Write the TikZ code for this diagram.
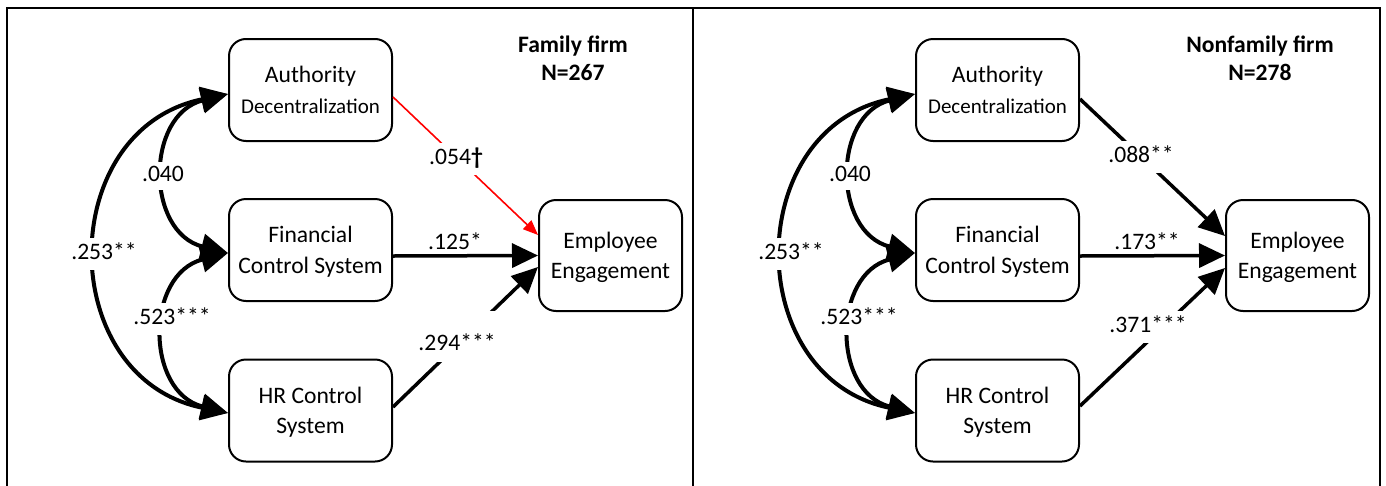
\documentclass[tikz,border=0pt]{standalone}
\usepackage{fontspec}
\setmainfont{Carlito}
\usetikzlibrary{arrows.meta}

\newcommand\mainsz{\fontsize{23.6pt}{30.5pt}\selectfont}
\newcommand\smallsz{\fontsize{21pt}{30pt}\selectfont}

\begin{document}
\begin{tikzpicture}[x=1pt,y=-1pt,
  panelframe/.style={draw=black, line width=2pt},
  var/.style={draw, line width=2pt, rounded corners=17pt, minimum width=163pt,
    minimum height=102pt, align=center, font=\mainsz, inner sep=0pt, text depth=0pt},
  outcome/.style={var, minimum width=143pt, minimum height=111pt},
  paneltitle/.style={align=center, font=\bfseries\fontsize{23.6pt}{28pt}\selectfont, inner sep=0pt},
  corr/.style={line width=4pt, {Triangle[length=27pt,width=25pt]}-{Triangle[length=27pt,width=25pt]}},
  effect/.style={line width=3.5pt, -{Triangle[length=26pt,width=24pt]}},
  weak/.style={draw=red, line width=1.6pt, -{Triangle[length=15pt,width=12pt]}},
  coef/.style={anchor=base, font=\mainsz, inner xsep=3pt, inner ysep=6pt, text height=16pt, text depth=4pt},
  coefcut/.style={coef, fill=white}
]
\useasboundingbox (0,0) rectangle (1386,485);
\clip (0,0) rectangle (1386,485);

% two panels, open at the bottom
\draw[panelframe] (7,8) rectangle (693,520);
\draw[panelframe] (693,8) rectangle (1380,520);

% ---------- family firms ----------
\node[var] (ad) at (310.5,90) {Authority\\{\smallsz Decentralization}};
\node[var] (fc) at (310.5,250) {Financial\\Control System};
\node[var] (hr) at (310.5,410.5) {HR Control\\System};
\node[outcome] (ee) at (610.5,255.5) {Employee\\Engagement};
\node[paneltitle] (t1) at (573,58) {Family firm\\N=267};

% correlations among the predictors
\draw[corr] ([yshift=-4pt]ad.west) .. controls +(-173.5,35.5) and +(-173.5,-35.5) .. ([yshift=-2.5pt]hr.west);
\draw[corr] ([yshift=-4pt]ad.west) .. controls +(-82.7,20.8) and +(-82.7,-20.8) .. ([yshift=-3pt]fc.west);
\draw[corr] ([yshift=-3pt]fc.west) .. controls +(-83,21) and +(-83,-21) .. ([yshift=-2.5pt]hr.west);

% paths to engagement
\draw[weak] ([yshift=-7pt]ad.east) -- ([yshift=20.5pt]ee.west);
\draw[effect] ([yshift=-6pt]fc.east) -- (ee.west);
\draw[effect] ([yshift=3.5pt]hr.east) -- ([yshift=-11.5pt]ee.west);

\node[coefcut] (l1) at (456,164.5) {.054\textbf{†}};
\node[coef] (l2) at (455,249.5) {.125*};
\node[coefcut, text height=32pt, inner ysep=7.5pt] (l3) at (457,350.5) {.294***};
\node[coefcut, inner ysep=4pt] (c1) at (163,181.5) {.040};
\node[coefcut] (c2) at (104,259.5) {.253**};
\node[coefcut] (c3) at (172,324.5) {.523***};

% ---------- nonfamily firms ----------
\begin{scope}[xshift=687pt]
\node[var] (ad2) at (310.5,90) {Authority\\{\smallsz Decentralization}};
\node[var] (fc2) at (310.5,250) {Financial\\Control System};
\node[var] (hr2) at (310.5,410.5) {HR Control\\System};
\node[outcome] (ee2) at (610.5,255.5) {Employee\\Engagement};
\node[paneltitle] (t2) at (573,58) {Nonfamily firm\\N=278};

\draw[corr] ([yshift=-4pt]ad2.west) .. controls +(-173.5,35.5) and +(-173.5,-35.5) .. ([yshift=-2.5pt]hr2.west);
\draw[corr] ([yshift=-4pt]ad2.west) .. controls +(-82.7,20.8) and +(-82.7,-20.8) .. ([yshift=-3pt]fc2.west);
\draw[corr] ([yshift=-3pt]fc2.west) .. controls +(-83,21) and +(-83,-21) .. ([yshift=-2.5pt]hr2.west);

\draw[effect] ([yshift=-9pt]ad2.east) -- ([yshift=19.5pt]ee2.west);
\draw[effect] ([yshift=-6pt]fc2.east) -- (ee2.west);
\draw[effect] ([yshift=4.5pt]hr2.east) -- ([yshift=-12.5pt]ee2.west);

\node[coefcut] (m1) at (454,162.5) {.088**};
\node[coef] (m2) at (460,249.5) {.173**};
\node[coefcut] (m3) at (461,332.5) {.371***};
\node[coefcut, inner ysep=4pt] (d1) at (163,181.5) {.040};
\node[coefcut] (d2) at (104,259.5) {.253**};
\node[coefcut] (d3) at (172,324.5) {.523***};
\end{scope}
\end{tikzpicture}
\end{document}
